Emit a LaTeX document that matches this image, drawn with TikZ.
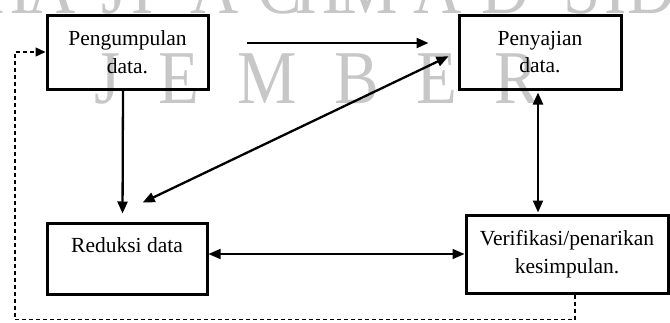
\documentclass[tikz,border=0pt]{standalone}
\usepackage{fontspec}
\setmainfont{Liberation Serif}
\usetikzlibrary{arrows.meta}

\tikzset{
  kotak/.style={draw, line width=3pt, align=center, inner sep=0pt,
    font=\fontsize{21.5}{27.5}\selectfont},
  panah/.style={line width=2.3pt, -{Triangle[length=12pt,width=10pt]}},
  panahdua/.style={line width=2.3pt,
    {Triangle[length=12pt,width=10pt]}-{Triangle[length=12pt,width=10pt]}},
  balik/.style={line width=1.4pt, dash pattern=on 4pt off 3pt,
    -{Triangle[length=10pt,width=9pt]}},
  tanda/.style={text=black!22, anchor=base, xscale=0.88,
    font=\fontsize{76}{76}\selectfont}
}

\begin{document}
\begin{tikzpicture}[x=1pt,y=-1pt]
\useasboundingbox (0,0) rectangle (670,322);

% watermark
\foreach \h/\x [count=\i] in {H/8,A/52,J/115,I/143,A/215,C/280,H/320,M/368,A/438,D/506,S/582,I/616,D/652}
  \node[tanda] (atas\i) at (\x,13) {\h};
\foreach \h/\x [count=\i] in {J/108,E/179,M/267,B/357,E/437,R/517}
  \node[tanda] (bawah\i) at (\x,103) {\h};

% boxes
\node[kotak, minimum width=161pt, minimum height=74pt] (peng) at (127.5,52) {Pengumpulan\\data.};
\node[kotak, minimum width=162pt, minimum height=74pt] (peny) at (540,52) {Penyajian\\data.};
\node[kotak, minimum width=160pt, minimum height=71pt] (red) at (127,258.5) {Reduksi data\\\mbox{}};
\node[kotak, minimum width=202pt, minimum height=78pt] (ver) at (567,254) {Verifikasi/penarikan\\kesimpulan.};

% arrows
\draw[panah, shorten <=37pt, shorten >=29pt] ([yshift=9pt]peng.east) -- ([yshift=9pt]peny.west);
\draw[panah, shorten >=8pt] ([xshift=-4.5pt]peng.south) -- ([xshift=-4.5pt]red.north);
\draw[panahdua, shorten <=44pt, shorten >=10pt] ([xshift=-24pt]red.north) -- (peny.west);
\draw[panahdua, shorten <=2pt, shorten >=1pt] ([xshift=-2pt]peny.south) -- ([xshift=-2pt]peny.south |- ver.north);
\draw[panahdua, line width=1.7pt] (red.east |- ver.west) -- (ver.west);

% feedback loop
\coordinate (sudut) at (15,319.5);
\draw[balik] ([xshift=8pt]ver.south) |- (sudut) |- (peng.west);
\end{tikzpicture}
\end{document}
